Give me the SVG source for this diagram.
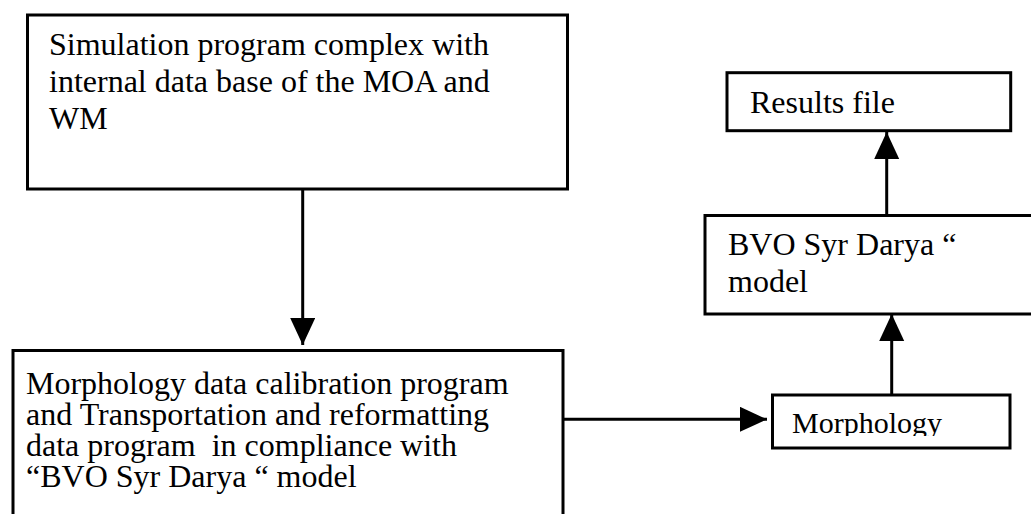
<svg xmlns="http://www.w3.org/2000/svg" width="1031" height="514" viewBox="0 0 1031 514">
<style>
.box{fill:#fff;stroke:#000;stroke-width:3}
.t{font-family:"Liberation Serif","Times New Roman",serif;font-size:32px;fill:#000;white-space:pre}
.ts{font-family:"Liberation Serif","Times New Roman",serif;font-size:30px;fill:#000}
.c{stroke:#000;stroke-width:3;fill:none;marker-end:url(#ah)}
</style>
<defs>
<marker id="ah" markerUnits="userSpaceOnUse" markerWidth="28" markerHeight="26" refX="27" refY="12.5" orient="auto">
<path d="M0,0 L27,12.5 L0,25 z" fill="#000"/>
</marker>
<clipPath id="mclip"><rect x="774" y="396" width="234" height="40"/></clipPath>
</defs>
<rect width="1031" height="514" fill="#fff"/>
<g id="connectors">
<line class="c" x1="302.7" y1="190" x2="302.7" y2="345"/>
<line class="c" x1="563" y1="419.3" x2="767" y2="419.3"/>
<line class="c" x1="891.7" y1="394" x2="891.7" y2="314"/>
<line class="c" x1="886.7" y1="215" x2="886.7" y2="132"/>
</g>
<g id="sim">
<rect class="box" x="27.5" y="15" width="540" height="174"/>
<text class="t" x="49" y="55">Simulation program complex with</text>
<text class="t" x="49" y="92">internal data base of the MOA and</text>
<text class="t" x="49" y="129">WM</text>
</g>
<g id="calib">
<rect class="box" x="13" y="350.5" width="550" height="180"/>
<text class="t" x="26" y="393.5">Morphology data calibration program</text>
<text class="t" x="26" y="424.5">and Transportation and reformatting</text>
<text class="t" x="26" y="456" xml:space="preserve">data program  in compliance with</text>
<text class="t" x="26" y="486.5">“BVO Syr Darya “ model</text>
</g>
<g id="morph">
<rect class="box" x="772.5" y="395" width="237.5" height="53"/>
<text class="ts" x="792" y="433" clip-path="url(#mclip)">Morphology</text>
</g>
<g id="bvo">
<rect class="box" x="705" y="215.5" width="340" height="98.5"/>
<text class="t" x="728" y="255">BVO Syr Darya “</text>
<text class="t" x="728" y="292">model</text>
</g>
<g id="results">
<rect class="box" x="727" y="72.7" width="283.7" height="58"/>
<text class="t" x="750" y="112.7">Results file</text>
</g>
</svg>
